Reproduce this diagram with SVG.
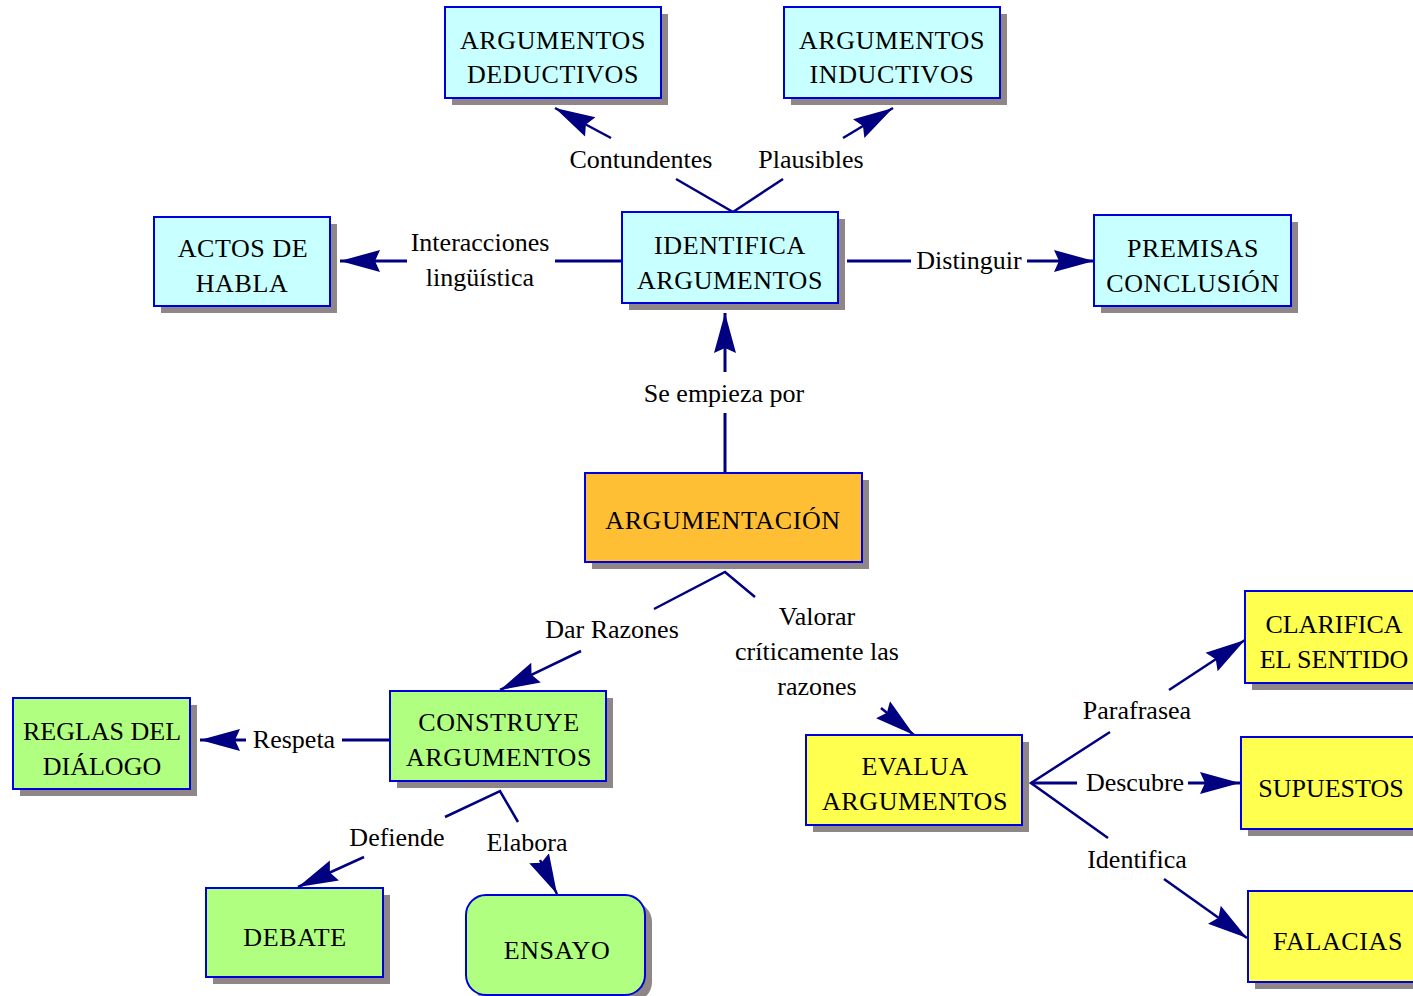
<svg xmlns="http://www.w3.org/2000/svg" width="1413" height="996" viewBox="0 0 1413 996" font-family="'Liberation Serif', 'DejaVu Serif', serif">
<defs>
<style>
.sh{fill:#8f8787}
.b{stroke:#0000dd;stroke-width:2}
.cy{fill:#c8ffff}
.gr{fill:#b0ff80}
.ye{fill:#ffff50}
.or{fill:#ffbf35}
text{font-family:'Liberation Serif','DejaVu Serif',serif;font-size:26px;fill:#000;text-anchor:middle}
.n{letter-spacing:0.6px}
.c{stroke:#000080;stroke-width:2.5;fill:none}
.h{stroke-width:3}
</style>
<marker id="ar" markerUnits="userSpaceOnUse" markerWidth="44" markerHeight="26" viewBox="0 -13 44 26" refX="40" refY="0" orient="auto">
<path d="M0,-11 L40,0 L0,11 L5,0 Z" fill="#000080"/>
</marker>
</defs>
<rect width="1413" height="996" fill="#fff"/>
<g id="connectors">
<path class="c h" d="M725,473 V413"/>
<path class="c h" d="M725,372 V313" marker-end="url(#ar)"/>
<path class="c" d="M733,212 L676,179"/>
<path class="c" d="M611,138 L555,108" marker-end="url(#ar)"/>
<path class="c" d="M733,212 L783,179"/>
<path class="c" d="M843,138 L893,108" marker-end="url(#ar)"/>
<path class="c h" d="M622,261 H555"/>
<path class="c h" d="M407,261 H340" marker-end="url(#ar)"/>
<path class="c h" d="M847,261 H911"/>
<path class="c h" d="M1027,261 H1094" marker-end="url(#ar)"/>
<path class="c" d="M654,609 L725,572 L755,597"/>
<path class="c" d="M581,651 L500,690" marker-end="url(#ar)"/>
<path class="c" d="M881,708 L914,735" marker-end="url(#ar)"/>
<path class="c h" d="M390,740 H342"/>
<path class="c h" d="M246,740 H200" marker-end="url(#ar)"/>
<path class="c" d="M445,817 L500,791 L518,822"/>
<path class="c" d="M364,857 L298,887" marker-end="url(#ar)"/>
<path class="c" d="M540,860 L557,894" marker-end="url(#ar)"/>
<path class="c" d="M1110,732 L1031,783 L1108,838"/>
<path class="c h" d="M1031,783 H1077"/>
<path class="c" d="M1169,690 L1245,640" marker-end="url(#ar)"/>
<path class="c h" d="M1188,783 H1240" marker-end="url(#ar)"/>
<path class="c" d="M1164,879 L1247,938" marker-end="url(#ar)"/>
</g>
<g id="labels">
<text x="724" y="402">Se empieza por</text>
<text x="641" y="168">Contundentes</text>
<text x="811" y="168">Plausibles</text>
<text x="480" y="251">Interacciones</text>
<text x="480" y="286">lingüística</text>
<text x="969" y="269">Distinguir</text>
<text x="612" y="638">Dar Razones</text>
<text x="817" y="625">Valorar</text>
<text x="817" y="660">críticamente las</text>
<text x="817" y="695">razones</text>
<text x="294" y="748">Respeta</text>
<text x="397" y="846">Defiende</text>
<text x="527" y="851">Elabora</text>
<text x="1137" y="719">Parafrasea</text>
<text x="1135" y="791">Descubre</text>
<text x="1137" y="868">Identifica</text>
</g>
<g id="n-deductivos">
<rect class="sh" x="452" y="14" width="216" height="91"/>
<rect class="cy b" x="445" y="7" width="216" height="91"/>
<text class="n" x="553" y="49">ARGUMENTOS</text>
<text class="n" x="553" y="83">DEDUCTIVOS</text>
</g>
<g id="n-inductivos">
<rect class="sh" x="791" y="14" width="216" height="91"/>
<rect class="cy b" x="784" y="7" width="216" height="91"/>
<text class="n" x="892" y="49">ARGUMENTOS</text>
<text class="n" x="892" y="83">INDUCTIVOS</text>
</g>
<g id="n-identifica">
<rect class="sh" x="629" y="219" width="216" height="91"/>
<rect class="cy b" x="622" y="212" width="216" height="91"/>
<text class="n" x="730" y="254">IDENTIFICA</text>
<text class="n" x="730" y="289">ARGUMENTOS</text>
</g>
<g id="n-actos">
<rect class="sh" x="161" y="224" width="176" height="89"/>
<rect class="cy b" x="154" y="217" width="176" height="89"/>
<text class="n" x="243" y="257">ACTOS DE</text>
<text class="n" x="242" y="292">HABLA</text>
</g>
<g id="n-premisas">
<rect class="sh" x="1101" y="222" width="197" height="91"/>
<rect class="cy b" x="1094" y="215" width="197" height="91"/>
<text class="n" x="1193" y="257">PREMISAS</text>
<text class="n" x="1193" y="292">CONCLUSIÓN</text>
</g>
<g id="n-argumentacion">
<rect class="sh" x="592" y="480" width="277" height="89"/>
<rect class="or b" x="585" y="473" width="277" height="89"/>
<text class="n" x="723" y="529">ARGUMENTACIÓN</text>
</g>
<g id="n-construye">
<rect class="sh" x="397" y="698" width="216" height="90"/>
<rect class="gr b" x="390" y="691" width="216" height="90"/>
<text class="n" x="499" y="731">CONSTRUYE</text>
<text class="n" x="499" y="766">ARGUMENTOS</text>
</g>
<g id="n-reglas">
<rect class="sh" x="20" y="705" width="177" height="91"/>
<rect class="gr b" x="13" y="698" width="177" height="91"/>
<text x="102" y="740">REGLAS DEL</text>
<text x="102" y="775">DIÁLOGO</text>
</g>
<g id="n-debate">
<rect class="sh" x="213" y="895" width="177" height="89"/>
<rect class="gr b" x="206" y="888" width="177" height="89"/>
<text class="n" x="295" y="946">DEBATE</text>
</g>
<g id="n-ensayo">
<rect class="sh" x="473" y="902" width="179" height="100" rx="20"/>
<rect class="gr b" x="466" y="895" width="179" height="100" rx="20"/>
<text class="n" x="557" y="959">ENSAYO</text>
</g>
<g id="n-evalua">
<rect class="sh" x="813" y="742" width="216" height="90"/>
<rect class="ye b" x="806" y="735" width="216" height="90"/>
<text class="n" x="915" y="775">EVALUA</text>
<text class="n" x="915" y="810">ARGUMENTOS</text>
</g>
<g id="n-clarifica">
<rect class="sh" x="1252" y="598" width="180" height="92"/>
<rect class="ye b" x="1245" y="591" width="180" height="92"/>
<text x="1334" y="633">CLARIFICA</text>
<text x="1334" y="668">EL SENTIDO</text>
</g>
<g id="n-supuestos">
<rect class="sh" x="1248" y="744" width="180" height="92"/>
<rect class="ye b" x="1241" y="737" width="180" height="92"/>
<text x="1331" y="797">SUPUESTOS</text>
</g>
<g id="n-falacias">
<rect class="sh" x="1255" y="898" width="180" height="91"/>
<rect class="ye b" x="1248" y="891" width="180" height="91"/>
<text class="n" x="1338" y="950">FALACIAS</text>
</g>
</svg>
